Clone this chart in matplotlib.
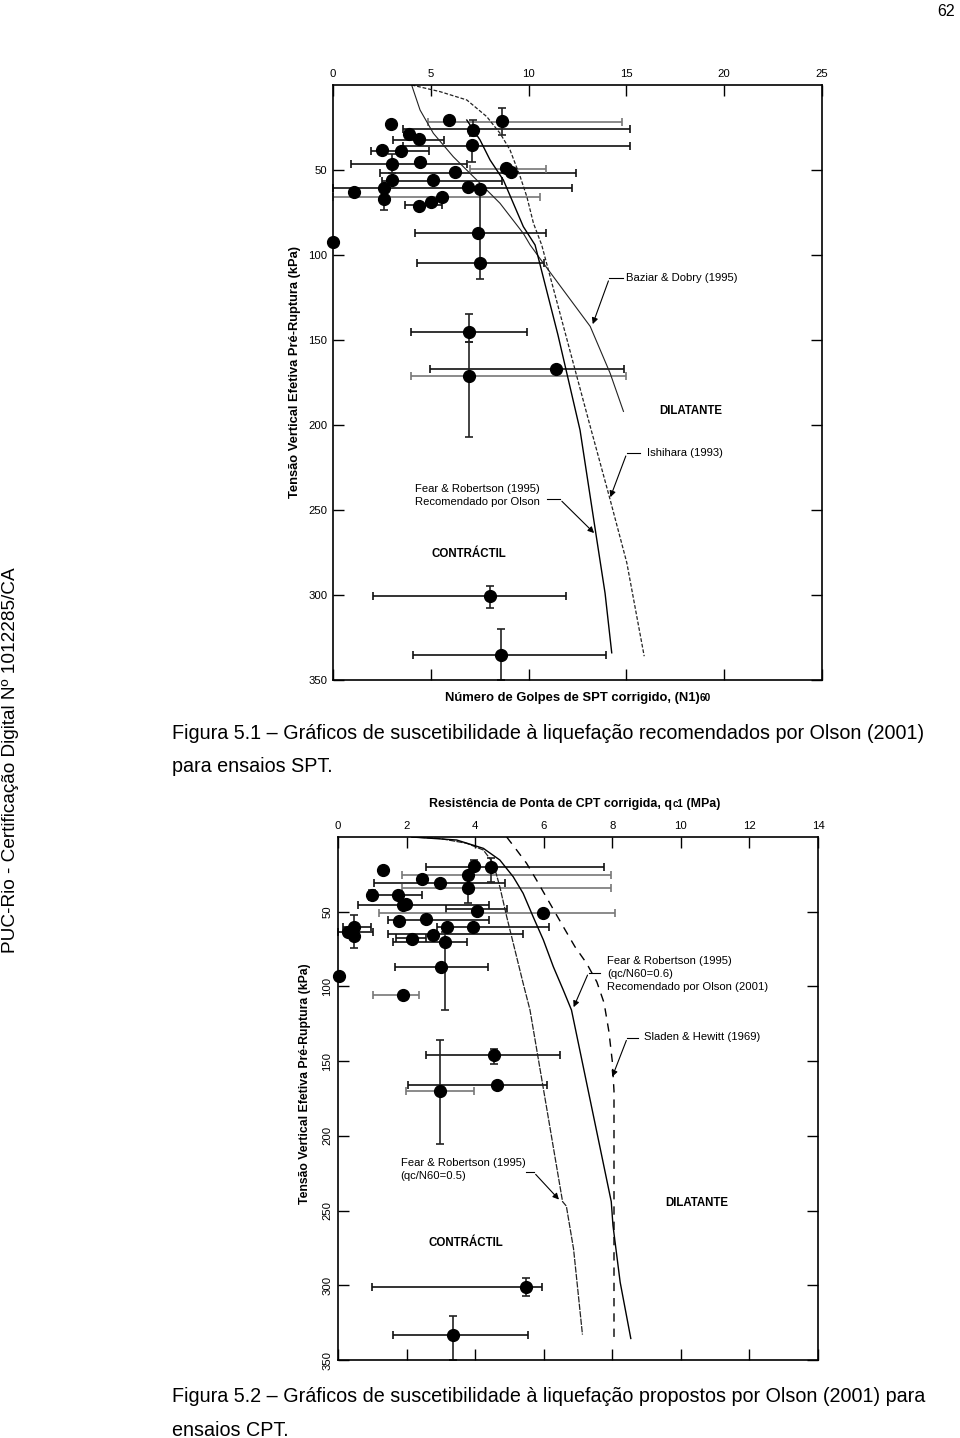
import numpy as np
import matplotlib
matplotlib.use('Agg')
import matplotlib.pyplot as plt
from matplotlib import font_manager

W, H = 960, 1438

# ---- SPT chart (fig 5.1) ----
spt_n = [2.94, 5.95, 8.65, 7.15, 3.9, 4.4, 7.12, 2.52, 3.48, 3.0, 4.44, 8.85, 9.12, 6.22, 3.0, 5.12,
         2.6, 6.9, 7.5, 1.07, 2.63, 5.58, 5.0, 4.4, 0.0, 7.43, 7.52, 6.93, 11.42, 6.93, 8.04, 8.58]
spt_s = [23, 20.6, 21, 26.5, 28.8, 32, 35.5, 38.5, 39, 46.2, 45, 49, 51.3, 51.3, 56, 55.7,
         60.5, 60.2, 61, 63, 67.3, 66, 69, 71, 92.5, 87, 104.6, 145.5, 167.2, 171.3, 300.4, 335]
# horizontal error bars: stress, left, right, grey?
spt_hb_s = [21.5, 26, 32.1, 35.6, 38.8, 46.2, 49.5, 51.5, 56.2, 60.5, 66, 70.8, 87, 104.6,
            145.5, 167.2, 171.3, 300.4, 335]
spt_hb_l = [4.84, 3.57, 3.05, 3.57, 1.94, 0.94, 7.0, 2.4, 2.48, 0.0, 0.0, 3.66, 4.2, 4.31,
            3.99, 4.97, 4.0, 2.04, 4.07]
spt_hb_r = [14.8, 15.2, 5.7, 15.2, 4.93, 6.87, 10.9, 12.4, 8.65, 12.2, 10.6, 5.57, 10.9, 10.8,
            9.92, 14.9, 14.96, 11.9, 13.98]
spt_hb_grey = [1, 0, 0, 0, 0, 0, 1, 0, 0, 0, 1, 0, 0, 0, 0, 0, 1, 0, 0]
# vertical error bars: N, top, bottom
spt_vb_n = [8.65, 7.15, 7.12, 3.0, 2.63, 7.5, 6.93, 6.93, 8.04, 8.58]
spt_vb_t = [13.3, 20.6, 35.5, 40.5, 62, 61, 134.8, 151, 294.5, 319.8]
spt_vb_b = [29.4, 30, 45.1, 52, 73.5, 114.4, 151, 207.3, 307.4, 350]

baziar_n = [4.02, 4.45, 5.13, 6.15, 7.35, 8.54, 9.73, 10.08, 10.76, 13.15, 14.17, 14.85]
baziar_s = [0, 14.7, 28.4, 42.2, 55.9, 69.6, 87.3, 94.1, 104.9, 142, 169.6, 192]
ishihara_n = [4.02, 5.47, 6.84, 7.86, 8.54, 9.05, 9.57, 9.91, 10.25, 10.67, 13.06, 14.17, 15.02, 15.91]
ishihara_s = [0, 3.9, 8.8, 18.6, 28.4, 38.2, 53.9, 65.7, 81.4, 94.1, 197, 244, 281, 336]
fr_n = [6.84, 7.52, 8.03, 8.71, 9.22, 9.73, 10.33, 11.5, 12.63, 13.45, 13.91, 14.25]
fr_s = [20.6, 32.4, 44.1, 55.9, 69.6, 83.3, 94.1, 147, 203, 264.7, 299, 334]

# ---- CPT chart (fig 5.2) ----
cpt_q = [1.31, 3.98, 4.45, 2.46, 3.79, 2.97, 3.79, 1.0, 1.76, 1.89, 1.97, 4.06, 5.97, 2.57, 1.78,
         3.18, 3.95, 0.47, 0.29, 0.47, 2.78, 2.17, 3.11, 2.99, 0.03, 1.89, 4.56, 4.63, 2.97, 5.47, 3.36]
cpt_s = [21.8, 19.6, 20.4, 27.8, 25.1, 30.7, 33.8, 38.9, 38.9, 45.6, 45.0, 49.6, 50.7, 55.1, 56.5,
         60.4, 60.4, 60.4, 63.3, 66.2, 65.6, 68.2, 70.4, 87.3, 93.3, 105.6, 146, 166, 170, 301, 333]
cpt_hb_s = [20.2, 25.1, 30.7, 33.8, 38.9, 45.6, 48.3, 50.7, 55.5, 60.4, 60.4, 63.5, 65.1, 67.3,
            70.4, 87.3, 105.6, 146, 166, 170, 301, 333]
cpt_hb_l = [2.57, 1.87, 1.06, 1.87, 1.0, 0.58, 3.14, 1.2, 1.45, 2.88, 0.16, 0.0, 1.47, 1.68,
            1.6, 1.66, 1.02, 2.57, 2.04, 1.99, 0.99, 1.6]
cpt_hb_r = [7.76, 7.95, 4.87, 7.95, 2.46, 4.4, 4.94, 8.07, 4.4, 6.15, 0.97, 1.02, 5.4, 2.57,
            3.77, 4.38, 2.36, 6.47, 6.11, 3.96, 5.96, 5.54]
cpt_hb_grey = [0, 1, 0, 1, 0, 0, 0, 1, 0, 0, 0, 0, 0, 0, 0, 0, 1, 0, 0, 1, 0, 0]
cpt_vb_q = [4.45, 3.98, 3.79, 1.0, 0.47, 3.11, 4.56, 2.97, 5.47, 3.36]
cpt_vb_t = [14.3, 15.2, 28.4, 35.5, 52.5, 63.8, 141.6, 135.6, 295, 320.4]
cpt_vb_b = [29.9, 22, 44.4, 42, 74, 115.6, 151.6, 205.6, 307, 350]

fr05_q = [2.15, 2.97, 3.75, 4.24, 4.53, 4.72, 4.92, 5.16, 5.4, 5.6, 6.55, 6.66, 6.87, 7.13]
fr05_s = [0, 1, 4.2, 8.7, 17.6, 33.3, 53.3, 75.6, 97.9, 115.8, 244, 247, 275.6, 333]
fr06_q = [2.15, 3.46, 4.24, 4.72, 5.11, 5.4, 5.69, 5.99, 6.28, 6.57, 6.81, 7.97, 8.02, 8.23, 8.54]
fr06_s = [0, 2, 7.6, 15.4, 26.6, 37.7, 53.3, 68.9, 86.8, 102.4, 115.8, 244, 260, 298, 335.6]
sladen_q = [4.92, 5.21, 5.5, 5.79, 6.18, 6.57, 6.91, 7.25, 7.55, 7.76, 7.9, 8.0, 8.05, 8.05]
sladen_s = [0, 8.7, 17.6, 28.8, 44.4, 60, 73.4, 84.5, 97, 111, 130, 150, 170, 335]

# annotation leaders: (horizontal start x, corner x, y, arrow tip x, tip y)
spt_leaders = [(14.85, 14.13, 113.7, 13.23, 142.2),
               (15.7, 15.02, 216.7, 14.13, 244.0),
               (10.93, 11.6, 243.7, 13.45, 264.7)]
cpt_leaders = [(7.65, 7.31, 90.7, 6.84, 115.6),
               (8.75, 8.44, 134.4, 7.97, 162.2),
               (5.48, 5.71, 224.4, 6.5, 244.0)]

# the scan looks like a squeezed Arial -> narrow cut if it is there
installed = {f.name for f in font_manager.fontManager.ttflist}
if 'Liberation Sans Narrow' in installed:
    plt.rcParams['font.family'] = ['Liberation Sans Narrow', 'Liberation Sans', 'DejaVu Sans']
    K = 1.2
else:
    plt.rcParams['font.family'] = ['Liberation Sans', 'DejaVu Sans']
    K = 1.0

ANN = 8.1 * K      # small annotation text
ZONE = 8.3 * K     # DILATANTE / CONTRACTIL
TICK = 8.2 * K

fig = plt.figure(figsize=(W / 100, H / 100), dpi=100)
fig.patch.set_facecolor('white')


def fx(px):
    return px / W


def fy(py):
    return 1 - py / H


def setup(ax, xmax, xticks, yrot):
    ax.set_xlim(0, xmax)
    ax.set_ylim(350, 0)
    ax.set_xticks(xticks)
    ax.set_yticks([50, 100, 150, 200, 250, 300, 350])
    ax.tick_params(direction='in', length=8, width=1, top=True, right=True,
                   labeltop=True, labelbottom=False, pad=4, labelsize=TICK)
    if yrot:
        for t in ax.get_yticklabels():
            t.set_rotation(90)
            t.set_va('center')
    for sp in ax.spines.values():
        sp.set_linewidth(1.2)


def draw_bars(ax, hs, hl, hr, hg, vx, vt, vb):
    hs, hl, hr, hg = map(np.array, (hs, hl, hr, hg))
    for grey, col in ((0, '#111111'), (1, '#777777')):
        m = hg == grey
        ax.errorbar((hl[m] + hr[m]) / 2, hs[m], xerr=(hr[m] - hl[m]) / 2, fmt='none',
                    ecolor=col, elinewidth=1.2, capsize=3, capthick=1.2, zorder=2, clip_on=False)
    vx, vt, vb = map(np.array, (vx, vt, vb))
    ax.errorbar(vx, (vt + vb) / 2, yerr=(vb - vt) / 2, fmt='none', ecolor='#222222',
                elinewidth=1.2, capsize=3, capthick=1.2, zorder=2, clip_on=False)


def leaders(ax, items):
    for x0, xc, y0, xt, yt in items:
        ax.plot([x0, xc], [y0, y0], color='k', lw=0.8)
        ax.annotate('', xy=(xt, yt), xytext=(xc, y0),
                    arrowprops=dict(arrowstyle='-|>', color='k', lw=0.8, mutation_scale=9))


# ---------- chart 1 ----------
ax1 = fig.add_axes([fx(333), fy(680), 489 / W, 595 / H])
setup(ax1, 25, [0, 5, 10, 15, 20, 25], False)
draw_bars(ax1, spt_hb_s, spt_hb_l, spt_hb_r, spt_hb_grey, spt_vb_n, spt_vb_t, spt_vb_b)
ax1.plot(baziar_n, baziar_s, color='#222222', lw=0.8)
ax1.plot(ishihara_n, ishihara_s, color='#222222', lw=0.9, ls=(0, (3, 1.5)))
ax1.plot(fr_n, fr_s, color='k', lw=1.0)
ax1.plot(spt_n, spt_s, 'o', color='k', ms=8.5, zorder=3, clip_on=False)
leaders(ax1, spt_leaders)
ax1.text(15.0, 113.7, 'Baziar & Dobry (1995)', fontsize=ANN, va='center')
ax1.text(16.05, 216.7, 'Ishihara (1993)', fontsize=ANN, va='center')
ax1.text(4.2, 241.5, 'Fear & Robertson (1995)\nRecomendado por Olson', fontsize=ANN,
         va='center', linespacing=1.4)
ax1.text(18.3, 191.5, 'DILATANTE', fontsize=ZONE, fontweight='bold', ha='center', va='center')
ax1.text(6.95, 276, 'CONTRÁCTIL', fontsize=ZONE, fontweight='bold', ha='center', va='center')

# ---------- chart 2 ----------
ax2 = fig.add_axes([fx(338), fy(1360), 480 / W, 523 / H])
setup(ax2, 14, [0, 2, 4, 6, 8, 10, 12, 14], True)
draw_bars(ax2, cpt_hb_s, cpt_hb_l, cpt_hb_r, cpt_hb_grey, cpt_vb_q, cpt_vb_t, cpt_vb_b)
ax2.plot(fr05_q, fr05_s, color='#222222', lw=0.9, ls=(0, (5, 1)))
ax2.plot(fr06_q, fr06_s, color='k', lw=1.0)
ax2.plot(sladen_q, sladen_s, color='k', lw=1.0, ls=(0, (6, 5)))
ax2.plot(cpt_q, cpt_s, 'o', color='k', ms=8.5, zorder=3, clip_on=False)
leaders(ax2, cpt_leaders)
ax2.text(7.85, 91.5, 'Fear & Robertson (1995)\n(qc/N60=0.6)\nRecomendado por Olson (2001)',
         fontsize=ANN, va='center', linespacing=1.4)
ax2.text(8.92, 134, 'Sladen & Hewitt (1969)', fontsize=ANN, va='center')
ax2.text(1.83, 222.4, 'Fear & Robertson (1995)\n(qc/N60=0.5)', fontsize=ANN,
         va='center', linespacing=1.4)
ax2.text(10.45, 245, 'DILATANTE', fontsize=ZONE, fontweight='bold', ha='center', va='center')
ax2.text(3.73, 272, 'CONTRÁCTIL', fontsize=ZONE, fontweight='bold', ha='center', va='center')


# axis titles with the small index pieces
def rich_label(xc, base, parts):
    r = fig.canvas.get_renderer()
    texts, widths = [], []
    for s, size in parts:
        t = fig.text(0, fy(base), s, fontsize=size * K, fontweight='bold', va='baseline')
        texts.append(t)
        widths.append(t.get_window_extent(r).width)
    x = xc - sum(widths) / 2
    for t, w in zip(texts, widths):
        t.set_x(fx(x))
        x += w


rich_label(578, 701, [('Número de Golpes de SPT corrigido, (N1)', 9.4), ('60', 7.2)])
rich_label(575, 807, [('Resistência de Ponta de CPT corrigida, q', 8.9), ('c1', 7.0), (' (MPa)', 8.9)])
fig.text(fx(295), fy(372), 'Tensão Vertical Efetiva Pré-Ruptura (kPa)', rotation=90,
         fontsize=9.3 * K, fontweight='bold', ha='center', va='center')
fig.text(fx(305), fy(1084), 'Tensão Vertical Efetiva Pré-Ruptura (kPa)', rotation=90,
         fontsize=8.8 * K, fontweight='bold', ha='center', va='center')

# page text
cap = 14.25 * K
fig.text(fx(172), fy(733), 'Figura 5.1 – Gráficos de suscetibilidade à liquefação recomendados por Olson (2001)',
         fontsize=cap, va='center')
fig.text(fx(172), fy(766), 'para ensaios SPT.', fontsize=cap, va='center')
fig.text(fx(172), fy(1397), 'Figura 5.2 – Gráficos de suscetibilidade à liquefação propostos por Olson (2001) para',
         fontsize=cap, va='center')
fig.text(fx(172), fy(1430), 'ensaios CPT.', fontsize=cap, va='center')
fig.text(fx(11), fy(760), 'PUC-Rio - Certificação Digital Nº 1012285/CA', rotation=90,
         fontsize=cap * 0.96, ha='center', va='center')
fig.text(fx(955), fy(11), '62', fontsize=11.5 * K, ha='right', va='center')

fig.savefig('out.png', dpi=100, facecolor='white')
